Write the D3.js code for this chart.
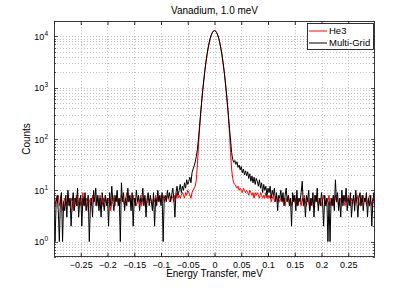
<!DOCTYPE html>
<html><head><meta charset="utf-8">
<script src="https://cdn.jsdelivr.net/npm/d3@7"></script>
<style>
body{margin:0;background:#fff;}
svg{display:block;font-family:"Liberation Sans",Arial,Helvetica,sans-serif;}
</style></head>
<body><svg id="chart" width="415" height="290"></svg>
<script>
// Energy transfer grid (meV): -0.300 .. 0.300, step 0.002
const eStart = -0.300, eStep = 0.002, nPts = 301;
const energy = d3.range(nPts).map(i => +(eStart + i * eStep).toFixed(3));

const he3 = [
6,5,7,6,8,5,6,7,4,6,
7,5,6,8,6,5,7,6,4,7,
6,8,5,6,7,5,6,9,6,5,
7,6,4,6,7,5,8,6,7,5,
6,7,5,8,6,5,7,6,8,6,
5,7,6,4,6,8,6,5,7,6,
7,5,6,8,7,6,5,7,9,6,
6,7,5,6,8,6,7,5,6,7,
6,8,5,7,6,7,5,6,8,6,
7,6,5,7,6,8,6,7,6,7,
6,7,8,6,7,6,8,7,6,7,
8,7,6,8,7,9,7,8,7,8,
9,8,7,9,8,10,9,8,7,9,
10,11,12,16,32,70,150,290,520,870,
1400,2150,3150,4400,5850,7500,9100,10600,11900,12700,
13000,
12700,11900,10600,9100,7450,5800,4300,3050,2080,1350,
840,480,270,130,55,26,17,14,13,12,
11,12,10,11,10,9,11,10,9,10,
9,8,10,9,8,9,7,9,8,9,
8,7,9,8,7,8,7,9,7,8,
7,8,6,7,8,6,7,8,6,7,
6,7,8,6,7,5,7,6,8,6,
7,5,6,8,6,7,5,6,7,6,
5,7,6,8,6,5,7,6,4,6,
7,6,5,8,6,7,5,6,7,5,
6,8,6,5,7,6,8,5,6,7,
5,6,8,6,7,5,6,7,6,8,
6,5,7,6,8,6,5,7,6,7,
5,7,6,8,6,5,7,6,8,6,
7,5,6,7,8,6,5,7,6,5
];

const multiGrid = [
5,1,6,8,4,1,7,9,1,6,
4,8,3,10,5,7,2,6,9,4,
7,5,11,3,6,8,2,7,5,9,
4,6,8,1,5,7,3,10,6,11,
5,8,4,7,3,9,6,4,8,5,
7,2,9,5,12,6,4,8,6,10,
5,7,1,14,6,9,4,7,5,11,
6,8,4,9,2,7,5,10,6,8,
4,7,6,11,5,8,3,7,9,5,
8,6,4,9,2,7,5,10,6,8,
5,9,1,7,8,6,10,7,9,6,
8,11,7,3,9,12,8,10,13,9,
12,10,14,11,16,13,15,18,14,22,
26,30,36,46,62,100,175,310,540,890,
1420,2170,3170,4400,5900,7500,9200,10700,11900,12700,
13000,
12700,11900,10600,9100,7400,5800,4350,3100,2120,1380,
860,510,290,160,95,55,40,35,38,32,
36,28,31,25,29,22,26,20,24,19,
23,17,21,15,19,14,18,13,17,15,
12,16,11,14,9,13,10,12,8,11,
9,12,7,10,8,11,6,9,4,8,
7,10,6,9,5,8,11,6,8,5,
7,2,9,6,8,4,10,5,7,6,
9,15,5,7,3,8,6,10,4,7,
5,9,3,8,6,11,4,7,5,9,
6,2,8,5,7,1,6,1,7,5,
8,4,16,6,9,4,7,3,10,5,
8,6,11,4,7,5,9,3,6,8,
4,10,6,3,7,9,5,8,4,7,
6,9,3,7,5,8,2,6,9,5
];

const xTicks = [-0.25,-0.2,-0.15,-0.1,-0.05,0,0.05,0.1,0.15,0.2,0.25];
const xTickLabels = ["\u22120.25","\u22120.2","\u22120.15","\u22120.1","\u22120.05","0","0.05","0.1","0.15","0.2","0.25"];
const yTicks = [1,10,100,1000,10000];
const yExponents = ["0","1","2","3","4"];
const seriesNames = ["He3","Multi-Grid"];
const seriesColors = ["#ff0000","#000000"];

const svg = d3.select("#chart");
const L = 54, R = 375, T = 21, B = 257;
const x = d3.scaleLinear().domain([-0.3, 0.3]).range([L, R]);
const y = d3.scaleLog().domain([0.5, 20000]).range([B, T]);

svg.append("rect").attr("x",L).attr("y",T).attr("width",R-L).attr("height",B-T).attr("fill","#fff");

const gridColor = "#b0b0b0";
const allY = y.ticks().filter(v => v >= 0.5 && v <= 20000);
const grid = svg.append("g");
grid.selectAll("line.gx").data(xTicks).join("line")
  .attr("x1", d => Math.round(x(d))+0.5).attr("x2", d => Math.round(x(d))+0.5).attr("y1", T).attr("y2", B)
  .attr("stroke", gridColor).attr("stroke-width", 0.8).attr("stroke-dasharray", "1,2");
grid.selectAll("line.gy").data(allY).join("line")
  .attr("x1", L).attr("x2", R).attr("y1", d => Math.round(y(d))+0.5).attr("y2", d => Math.round(y(d))+0.5)
  .attr("stroke", gridColor).attr("stroke-width", 0.8).attr("stroke-dasharray", "1,2");

svg.append("defs").append("clipPath").attr("id","clip")
  .append("rect").attr("x",L).attr("y",T).attr("width",R-L).attr("height",B-T);

const line = d3.line().x((d,i) => x(energy[i])).y(d => y(d));
const plot = svg.append("g").attr("clip-path","url(#clip)");
[he3, multiGrid].forEach((s, k) => {
  plot.append("path").datum(s).attr("d", line).attr("fill","none")
    .attr("stroke", seriesColors[k]).attr("stroke-width", 1).attr("stroke-linejoin","round");
});

// Axes with inward ticks on all sides
const axColor = "#262626";
const ax = svg.append("g");
const xb = d3.axisBottom(x).tickValues(xTicks).tickSizeInner(-4).tickSizeOuter(0).tickFormat((d,i)=>xTickLabels[i]);
const gxb = ax.append("g").attr("transform",`translate(0,${B})`).call(xb);
gxb.select(".domain").remove();
gxb.selectAll("text").attr("dy","0").attr("y", 10.5).attr("font-size","9px").attr("fill","#000");
const xt = d3.axisTop(x).tickValues(xTicks).tickSizeInner(-4).tickSizeOuter(0).tickFormat("");
const gxt = ax.append("g").attr("transform",`translate(0,${T})`).call(xt);
gxt.select(".domain").remove();
ax.selectAll(".tick line").attr("stroke", axColor);

[L, R].forEach(px => {
  const dir = px === L ? 1 : -1;
  ax.selectAll(null).data(allY).join("line")
    .attr("x1", px).attr("x2", d => px + dir * (yTicks.includes(d) ? 4 : 2))
    .attr("y1", d => Math.round(y(d))+0.5).attr("y2", d => Math.round(y(d))+0.5)
    .attr("stroke", axColor).attr("stroke-width", 0.8);
});

const ylab = ax.append("g");
yTicks.forEach((v, i) => {
  const t = ylab.append("text").attr("x", 48).attr("y", y(v) + 3.5).attr("text-anchor","end")
    .attr("font-size","9px").attr("fill","#000");
  t.append("tspan").text("10");
  t.append("tspan").text(yExponents[i]).attr("font-size","6.5px").attr("dy","-4");
});

ax.append("rect").attr("x",L+0.5).attr("y",T+0.5).attr("width",R-L-1).attr("height",B-T-1)
  .attr("fill","none").attr("stroke",axColor).attr("stroke-width",0.9);

svg.append("text").attr("x",(L+R)/2).attr("y",14).attr("text-anchor","middle")
  .attr("font-size","10px").text("Vanadium, 1.0 meV");
svg.append("text").attr("x",(L+R)/2).attr("y",277).attr("text-anchor","middle")
  .attr("font-size","10px").text("Energy Transfer, meV");
svg.append("text").attr("transform",`translate(30,${(T+B)/2}) rotate(-90)`).attr("text-anchor","middle")
  .attr("font-size","10px").text("Counts");

// Legend
const lg = svg.append("g");
lg.append("rect").attr("x",307.5).attr("y",23.5).attr("width",66).attr("height",26)
  .attr("fill","#fff").attr("stroke","#000").attr("stroke-width",0.8);
seriesNames.forEach((n, k) => {
  const yy = 31 + k * 12;
  lg.append("line").attr("x1",309).attr("x2",327).attr("y1",yy).attr("y2",yy)
    .attr("stroke",seriesColors[k]).attr("stroke-width",1);
  lg.append("text").attr("x",329).attr("y",yy+3.3).attr("font-size","9.5px").text(n);
});
</script></body></html>
